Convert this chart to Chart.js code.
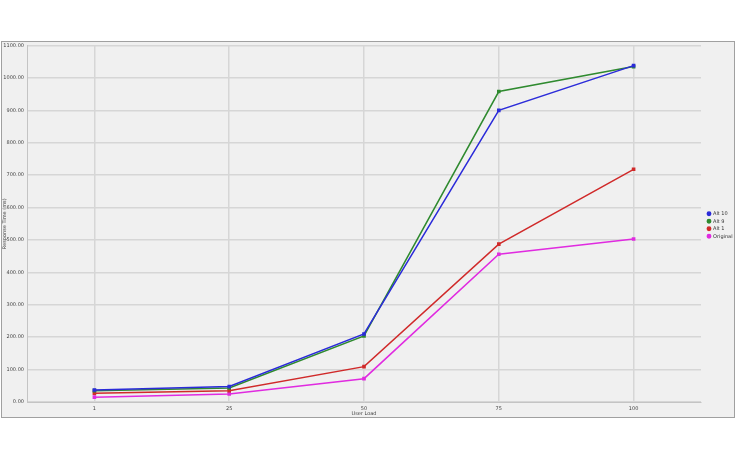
<!DOCTYPE html>
<html>
<head>
<meta charset="utf-8">
<script src="https://cdn.jsdelivr.net/npm/chart.js@4/dist/chart.umd.min.js"></script>
<style>
    body { margin: 0; background: #fff; }
    #frame { position: absolute; left: 1px; top: 41px; width: 732px; height: 375px; border: 1px solid #a0a0a0; background: #f0f0f0; }
</style>
</head>
<body>
<div id="frame"><canvas id="chart" width="732" height="375"></canvas></div>
<script>
    // data
    var userLoad = ['1', '25', '50', '75', '100'];
    var alt10 = [37, 48, 210, 900, 1038];
    var alt9 = [35, 43, 204, 958, 1035];
    var alt1 = [27, 35, 109, 487, 718];
    var original = [15, 25, 72, 456, 503];

    function line(label, data, color) {
        return {
            label: label,
            data: data,
            borderColor: color,
            backgroundColor: color,
            borderWidth: 1.5,
            pointStyle: 'rect',
            pointRadius: 1.5,
            pointHoverRadius: 2,
            tension: 0
        };
    }

    // keep the legend narrow so the plot reaches x=699 like the original
    var legendFix = {
        id: 'legendFix',
        beforeLayout: function(chart) {
            var lg = chart.legend;
            if (lg && !lg._fixed) {
                var fit = lg.fit.bind(lg);
                lg.fit = function() { fit(); this.width = 33; };
                lg._fixed = true;
            }
        },
        afterLayout: function(chart) {
            var lg = chart.legend;
            if (lg) {
                lg.left += 4; lg.right += 4;
                lg.top -= 6; lg.bottom -= 6;
            }
        }
    };

    var ctx = document.getElementById('chart').getContext('2d');
    var chart = new Chart(ctx, {
        type: 'line',
        data: {
            labels: userLoad,
            datasets: [
                line('Alt 10', alt10, '#2b2bd9'),
                line('Alt 9', alt9, '#2f8a2f'),
                line('Alt 1', alt1, '#d02a2a'),
                line('Original', original, '#e02be0')
            ]
        },
        options: {
            responsive: false,
            animation: false,
            layout: { padding: { top: 3, left: 0, right: 0, bottom: 0 } },
            plugins: {
                legend: {
                    position: 'right',
                    labels: {
                        usePointStyle: true,
                        pointStyle: 'circle',
                        boxWidth: 3,
                        boxHeight: 2.4,
                        padding: 2.5,
                        font: { size: 5, family: 'DejaVu Sans' },
                        color: '#333'
                    }
                },
                tooltip: { enabled: false }
            },
            scales: {
                x: {
                    offset: true,
                    grid: { offset: false, color: '#d6d6d6', lineWidth: 1.5, drawTicks: false },
                    border: { color: '#c4c4c4' },
                    ticks: { font: { size: 5, family: 'DejaVu Sans' }, color: '#444', padding: 4, maxRotation: 0 },
                    title: { display: true, text: 'User Load', font: { size: 5, family: 'DejaVu Sans' }, color: '#444', padding: 0 },
                    afterFit: function(s) { s.height = 15; }
                },
                y: {
                    min: 0,
                    max: 1100,
                    grid: { color: '#d6d6d6', lineWidth: 1.5, drawTicks: false },
                    border: { color: '#c4c4c4' },
                    ticks: {
                        stepSize: 100,
                        font: { size: 5, family: 'DejaVu Sans' },
                        color: '#444',
                        padding: 3,
                        callback: function(v) { return v.toFixed(2); }
                    },
                    title: { display: true, text: 'Response Time (ms)', font: { size: 5, family: 'DejaVu Sans' }, color: '#444', padding: 0 },
                    afterFit: function(s) { s.width = 25; s.paddingTop = 0; s.paddingBottom = 0; }
                }
            }
        },
        plugins: [legendFix]
    });
</script>
</body>
</html>
